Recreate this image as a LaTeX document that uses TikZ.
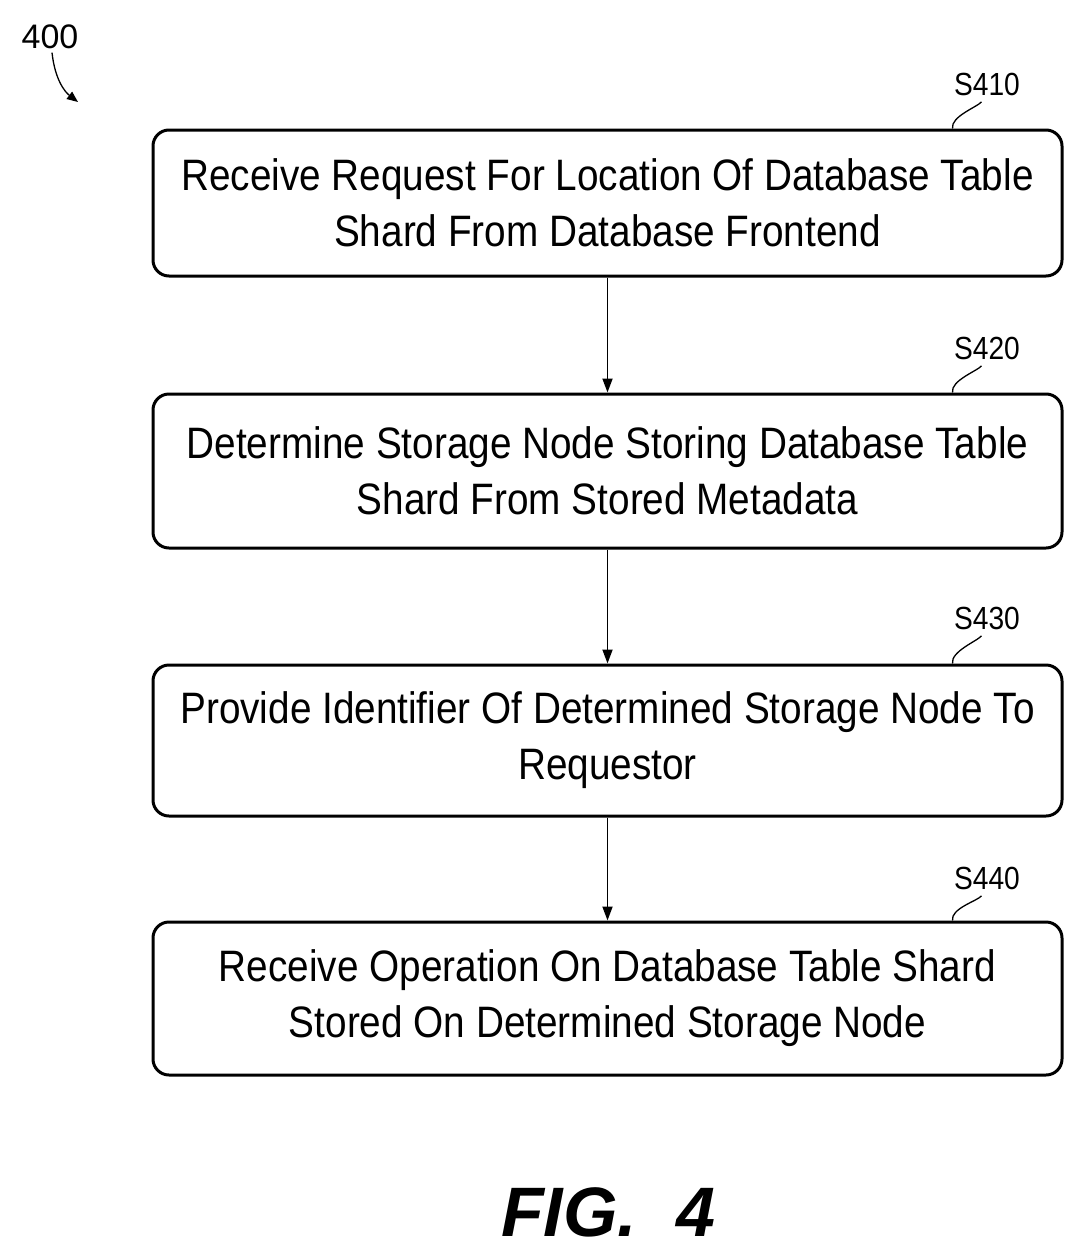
\documentclass[tikz,border=0pt]{standalone}
\usepackage{fontspec}
\setmainfont{Liberation Sans}
\newfontfamily\boxfont[FakeStretch=0.88]{Liberation Sans}
\usetikzlibrary{arrows.meta}
\begin{document}
\begin{tikzpicture}[x=1pt,y=-1pt,
  stepbox/.style={draw,line width=3pt,rounded corners=16pt,minimum width=909pt,align=center,font=\boxfont\fontsize{44}{56}\selectfont,inner sep=0pt},
  lab/.style={font=\boxfont\fontsize{32}{32}\selectfont},
  arr/.style={line width=1.8pt,-{Triangle[length=14pt,width=10pt]}},
  sq/.style={line width=1.3pt}]
\useasboundingbox (0,0) rectangle (1084,1256);
\node[stepbox,minimum height=146pt] (b1) at (607.5,203) {Receive Request For Location Of Database Table\\Shard From Database Frontend};
\node[stepbox,minimum height=154pt] (b2) at (607.5,471) {Determine Storage Node Storing Database Table\\Shard From Stored Metadata};
\node[stepbox,minimum height=151pt] (b3) at (607.5,740.5) {Provide Identifier Of Determined Storage Node To\\Requestor};
\node[stepbox,minimum height=153pt] (b4) at (607.5,998.5) {Receive Operation On Database Table Shard\\Stored On Determined Storage Node};
\draw[arr] (b1) -- (b2);
\draw[arr] (b2) -- (b3);
\draw[arr] (b3) -- (b4);
\foreach \n/\t/\y in {l1/S410/84,l2/S420/348,l3/S430/618,l4/S440/878}{
  \node[lab] (\n) at (987,\y) {\t};}
\foreach \n/\b in {l1/b1,l2/b2,l3/b3,l4/b4}{
  \coordinate (s\n) at ([xshift=-52pt]\b.north);
  \path (s\n) ++(0pt,0pt) coordinate (tmp);
  \coordinate (e\n) at ([xshift=374pt]\b.north |- \n.south);
  \draw[sq] ([xshift=345pt]\b.north) .. controls ([xshift=343pt,yshift=12pt]\b.north) and ([xshift=370pt,yshift=-8pt]\b.north |- \n.south) .. ([xshift=374pt,yshift=-3pt]\b.north |- \n.south);}
\node[font=\fontsize{34}{34}\selectfont] (n400) at (50,37) {400};
\coordinate (t400) at (78,102);
\draw[line width=1.3pt,-{Triangle[length=11pt,width=9pt]}] ([xshift=2pt]n400.south) .. controls (55,80) and (65,92) .. (t400);
\node[font=\bfseries\itshape\fontsize{70}{70}\selectfont] (fig) at (608,1212) {FIG.\ \ 4};
\end{tikzpicture}
\end{document}
